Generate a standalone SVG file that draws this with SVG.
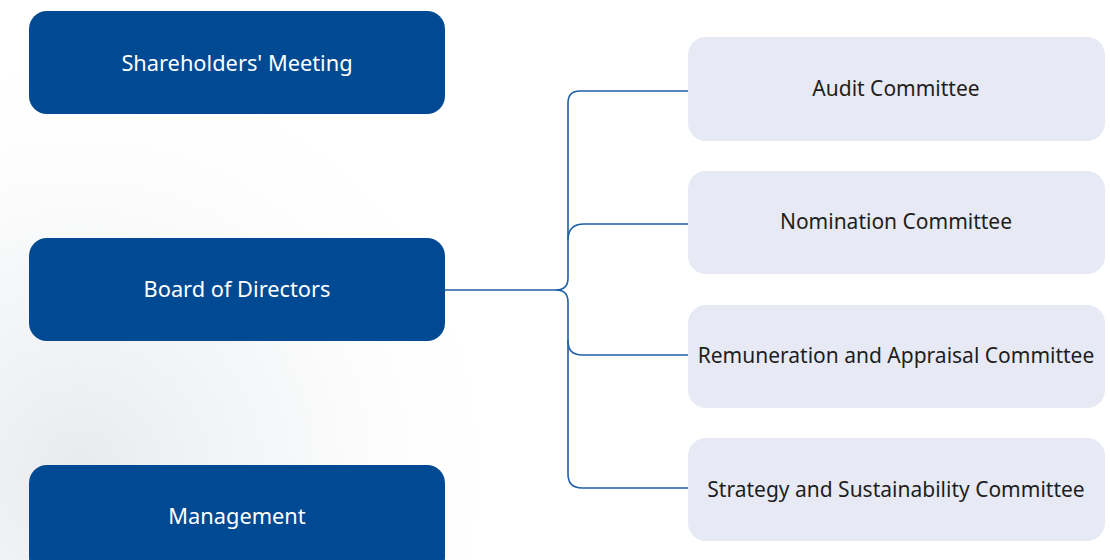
<svg xmlns="http://www.w3.org/2000/svg" width="1110" height="560" viewBox="0 0 1110 560">
<style>
.dark{fill:#004a93}
.light{fill:#e7eaf4}
.tw{fill:#ffffff;font-family:"Noto Sans","Open Sans",sans-serif;font-size:21.8px;text-anchor:middle;dominant-baseline:central}
.tb{fill:#1e1e1e;font-family:"Noto Sans","Open Sans",sans-serif;font-size:21px;text-anchor:middle;dominant-baseline:central}
.conn{fill:none;stroke:#2060a8;stroke-width:1.6}
</style>
<defs>
<radialGradient id="bg" gradientUnits="userSpaceOnUse" cx="80" cy="470" r="430">
<stop offset="0" stop-color="#e4e6ea" stop-opacity="0.85"/>
<stop offset="0.5" stop-color="#eef0f2" stop-opacity="0.5"/>
<stop offset="1" stop-color="#ffffff" stop-opacity="0"/>
</radialGradient>
</defs>
<rect width="1110" height="560" fill="#ffffff"/>
<rect width="1110" height="560" fill="url(#bg)"/>
<g id="shareholders"><rect class="dark" x="29" y="11" width="416" height="103" rx="18"/><text class="tw" x="237" y="62">Shareholders' Meeting</text></g>
<g id="board"><rect class="dark" x="29" y="238" width="416" height="103" rx="18"/><text class="tw" x="237" y="288">Board of Directors</text></g>
<g id="management"><rect class="dark" x="29" y="465" width="416" height="110" rx="18"/><text class="tw" x="237" y="515">Management</text></g>
<g id="audit"><rect class="light" x="688" y="37" width="417" height="104" rx="18"/><text class="tb" x="896" y="88">Audit Committee</text></g>
<g id="nomination"><rect class="light" x="688" y="171" width="417" height="103" rx="18"/><text class="tb" x="896" y="221">Nomination Committee</text></g>
<g id="remuneration"><rect class="light" x="688" y="305" width="417" height="103" rx="18"/><text class="tb" x="896" y="355">Remuneration and Appraisal Committee</text></g>
<g id="strategy"><rect class="light" x="688" y="438" width="417" height="103" rx="18"/><text class="tb" x="896" y="489">Strategy and Sustainability Committee</text></g>
<g id="connectors">
<path class="conn" d="M445,290 H556 Q568,290 568,278 V103 Q568,91 580,91 H688"/>
<path class="conn" d="M568,240 Q568,224 584,224 H688"/>
<path class="conn" d="M556,290 Q568,290 568,302 V341 Q568,355 582,355 H688"/>
<path class="conn" d="M568,340 V474 Q568,488 582,488 H688"/>
</g>
</svg>
